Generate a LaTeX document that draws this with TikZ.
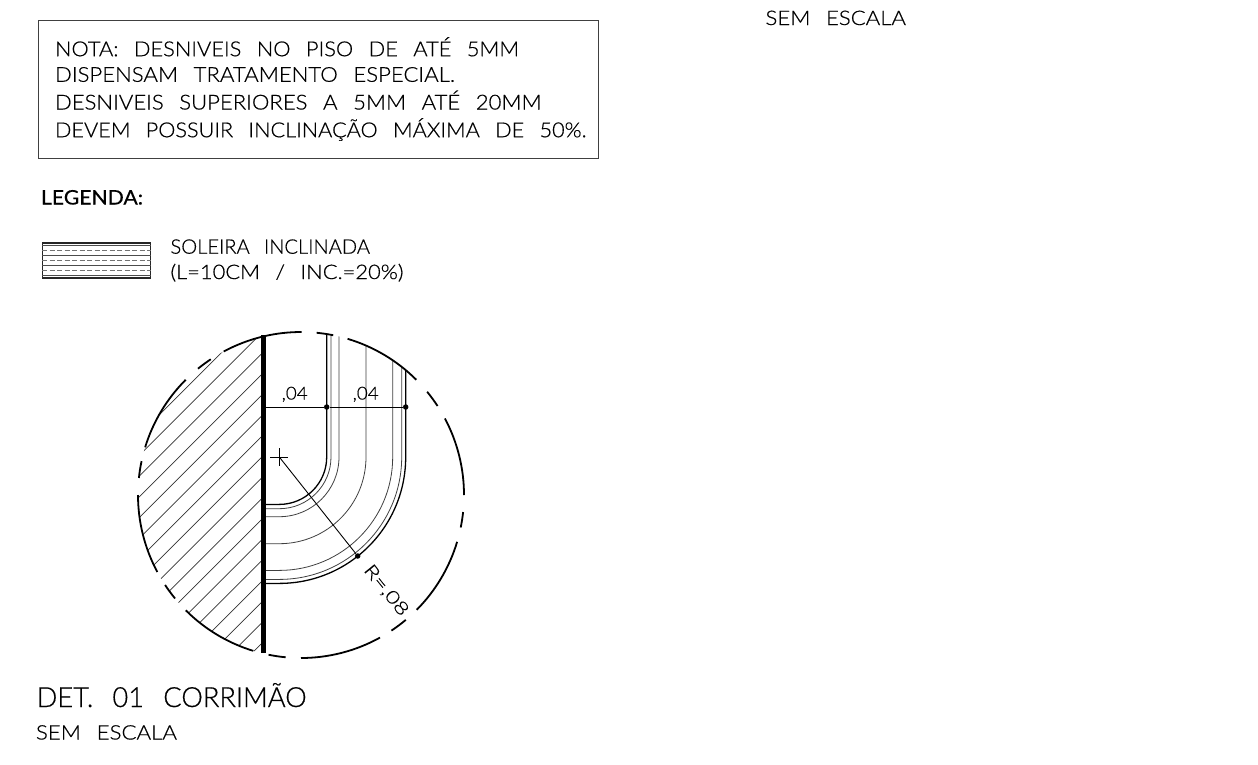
\documentclass[tikz,border=0pt]{standalone}
\usepackage{fontspec}
\usepackage{graphicx}
\setmainfont[WordSpace=2.6,UprightFont={* Light},UprightFeatures={FakeBold=0.5},BoldFont={*},BoldFeatures={FakeBold=0.4}]{Lato}
\newcommand{\fitw}[2]{\resizebox{#1pt}{\height}{#2}}
\tikzset{
 txt/.style={anchor=base west,inner sep=0pt,outer sep=0pt,text=black},
 notetxt/.style={txt,font=\fontsize{20.6}{24}\selectfont},
 smalltxt/.style={txt,font=\fontsize{20}{24}\selectfont},
 legtxt/.style={txt,font=\fontsize{20}{24}\selectfont},
 dimtxt/.style={txt,font=\fontsize{17.8}{20}\selectfont},
 thin line/.style={line width=0.8pt,draw=black!75},
 mid line/.style={line width=1.3pt,draw=black},
 circ/.style={line width=1.8pt,draw=black},
 hatchline/.style={line width=0.7pt,draw=black!80},
 dot/.style={circle,fill=black,inner sep=0pt,minimum size=5.5pt},
 smalldot/.style={circle,fill=black,inner sep=0pt,minimum size=3.5pt},
}
\begin{document}
\begin{tikzpicture}[x=1pt,y=1pt]
\useasboundingbox[fill=white] (0,0) rectangle (1258,-764);
% note box
\node[draw=black!75,line width=0.9pt,inner sep=0pt,minimum width=560pt,minimum height=137.5pt,anchor=north west] (notebox) at (38,-20.2) {};
\node[notetxt] (n1) at (55,-56.2) {\fitw{464}{NOTA: DESNIVEIS NO PISO DE ATÉ 5MM}};
\node[notetxt] (n2) at (55,-81.8) {\fitw{400}{DISPENSAM TRATAMENTO ESPECIAL.}};
\node[notetxt] (n3) at (55,-109.5) {\fitw{486.5}{DESNIVEIS SUPERIORES A 5MM ATÉ 20MM}};
\node[notetxt] (n4) at (55,-137.2) {\fitw{531.5}{DEVEM POSSUIR INCLINAÇÃO MÁXIMA DE 50\%.}};
\node[txt,font=\fontsize{20}{24}\selectfont\bfseries] (leg) at (41,-204.5) {\fitw{102}{LEGENDA:}};
\node[legtxt] (s1) at (170.5,-253.7) {\fitw{199.5}{SOLEIRA INCLINADA}};
\node[legtxt] (s2) at (170.5,-279) {\fitw{233}{(L=10CM / INC.=20\%)}};
% legend swatch
\node[draw=black!85,line width=1.2pt,inner sep=0pt,minimum width=108pt,minimum height=35pt,anchor=north west] (swatch) at (42,-242.3) {};
\foreach \yy in {245,255.5,265.5,275}{\draw[line width=1pt,draw=black!70] (swatch.west |- 0,-\yy) -- (swatch.east |- 0,-\yy);}
\foreach \yy in {250.7,260.3,270.3}{\draw[line width=1.1pt,draw=black!55,dash pattern=on 5pt off 2.5pt] (swatch.west |- 0,-\yy) -- (swatch.east |- 0,-\yy);}
% geometry
\coordinate (C) at (301,-495);
\coordinate (O) at (279.3,-457);
\coordinate (wtop) at (263.3,-335);
\coordinate (wbot) at (263.3,-653);
% hatching
\begin{scope}
\clip (263.3,-300) rectangle (100,-700);
\clip (C) circle (163);
\foreach \s in {574,594.7,...,906}{\draw[hatchline] (100,{-(\s-100)}) -- (300,{-(\s-300)});}
\end{scope}
% handrail
\begin{scope}
\clip (C) circle (163);
\foreach \r in {51.7,59.7,86.7,113.4,122.4}{
 \draw[thin line] (263.3,{-457-\r}) -- (279.3,{-457-\r}) arc[start angle=270,end angle=360,radius=\r] -- ({279.3+\r},-320);}
\foreach \r in {47.4,126.4}{
 \draw[mid line] (263.3,{-457-\r}) -- (279.3,{-457-\r}) arc[start angle=270,end angle=360,radius=\r] -- ({279.3+\r},-320);}
\end{scope}
% broken outline
\foreach \a/\b in {103.2/89.8,84.5/78.6,73.4/45,39.3/33.1,28/0,-6/-11.5,-16.7/-44.8,-50/-56.3,-61/-90,-95.4/-101.5,-107/-135,-140.6/-146.5,-151.8/-180,174/168,163/135,129.2/123.6,118.3/103.2}{
 \draw[circ,shift={(C)}] (\a:163) arc[start angle=\a,end angle=\b,radius=163];}
% wall
\draw[line width=4.5pt] (wtop) -- (wbot);
% dimensions
\node[smalldot] (d0) at (263.3,-407) {};
\node[dot] (d1) at (326.7,-407) {};
\node[dot] (d2) at (405.7,-407) {};
\draw[line width=0.9pt] (d0) -- (d1);
\draw[line width=0.9pt] (d1) -- (d2);
\node[dot] (d3) at (357.7,-556) {};
\draw[line width=0.9pt] (O) -- (d3);
\coordinate (xl) at (270.3,-457); \coordinate (xr) at (288.3,-457);
\coordinate (xt) at (279.3,-448); \coordinate (xb) at (279.3,-466);
\draw[line width=0.9pt] (xl) -- (xr);
\draw[line width=0.9pt] (xt) -- (xb);
\node[dimtxt] (dt1) at (281.7,-399.5) {\fitw{26}{,04}};
\node[dimtxt] (dt2) at (352.7,-399.5) {\fitw{26}{,04}};
\node[dimtxt,anchor=center,rotate=-51] (dt3) at (386,-590.5) {\fitw{60}{R=,08}};
% titles
\node[txt,font=\fontsize{27.8}{30}\selectfont] (t1) at (36.7,-707) {\fitw{270}{DET. 01 CORRIMÃO}};
\node[smalltxt] (t2) at (36,-739.5) {\fitw{141}{SEM ESCALA}};
\node[smalltxt] (t3) at (765.5,-25) {\fitw{140.5}{SEM ESCALA}};
\end{tikzpicture}
\end{document}
